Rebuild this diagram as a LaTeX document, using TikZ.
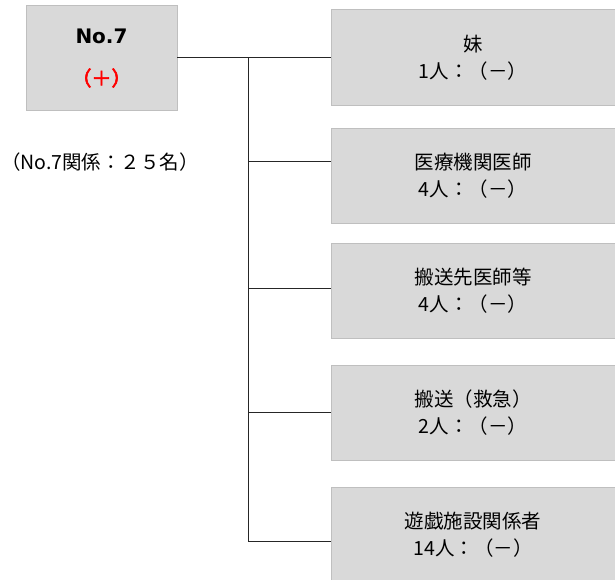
\documentclass[tikz,border=0pt]{standalone}
\usepackage{fontspec}
\setmainfont{Noto Sans CJK JP}
\newfontfamily\headfont{DejaVu Sans}
\newfontfamily\boldjp{Noto Sans CJK JP}[FakeBold=3]

\begin{document}
\begin{tikzpicture}[x=1pt,y=-1pt,
  box/.style={draw=gray!50,fill=gray!30,line width=0.8pt},
  contact/.style={align=center,inner sep=0pt,font=\fontsize{19.5}{27}\selectfont},
  link/.style={draw=black!85,line width=0.9pt}]

  \useasboundingbox (0,0) rectangle (615,580);

  % patient
  \node[box,minimum width=151pt,minimum height=105pt] (p7) at (101.5,57.5) {};
  \node[font=\headfont\bfseries\fontsize{20}{24}\selectfont] (p7name) at (101.5,36) {No.7};
  \node[font=\boldjp\fontsize{20}{24}\selectfont,text=red] (p7res) at (101.5,78) {（＋）};
  \node[contact] (total) at (100,162) {（No.7関係：２５名）};

  % contacts
  \node[box,minimum width=290pt,minimum height=96pt] (b1) at (476,57.5) {};
  \node[box,minimum width=290pt,minimum height=95pt] (b2) at (476,175.5) {};
  \node[box,minimum width=290pt,minimum height=95pt] (b3) at (476,290.5) {};
  \node[box,minimum width=290pt,minimum height=95pt] (b4) at (476,412.5) {};
  \node[box,minimum width=290pt,minimum height=96pt] (b5) at (476,535) {};

  \node[contact] (t1) at (473,57.5) {妹\\1人：（－）};
  \node[contact] (t2) at (473,175.5) {医療機関医師\\4人：（－）};
  \node[contact] (t3) at (473,290.5) {搬送先医師等\\4人：（－）};
  \node[contact] (t4) at (473,412.5) {搬送（救急）\\2人：（－）};
  \node[contact] (t5) at (473,535) {遊戯施設関係者\\14人：（－）};

  \coordinate (j1) at (248,57.5);
  \coordinate (j2) at (248,161);
  \coordinate (j3) at (248,288);
  \coordinate (j4) at (248,412);
  \coordinate (j5) at (248,541);

  \draw[link] (p7.east) -- (b1.west);
  \draw[link] (j1) -- (j5);
  \draw[link] (j2) -- (j2 -| b2.west);
  \draw[link] (j3) -- (j3 -| b3.west);
  \draw[link] (j4) -- (j4 -| b4.west);
  \draw[link] (j5) -- (j5 -| b5.west);

\end{tikzpicture}
\end{document}
